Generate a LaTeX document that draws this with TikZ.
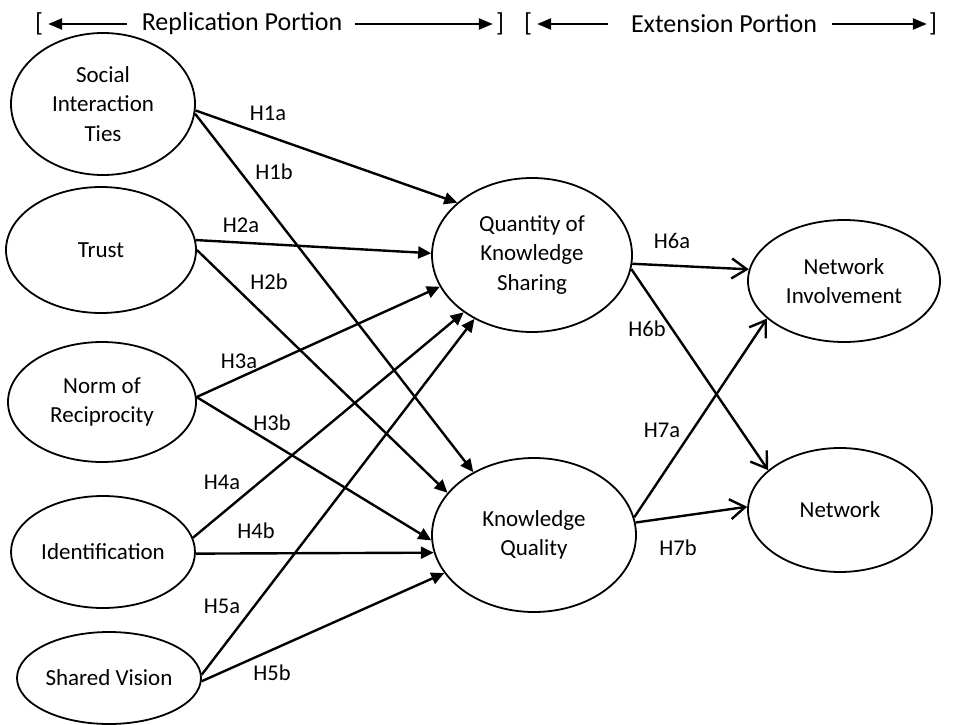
\documentclass[tikz,border=0pt]{standalone}
\usepackage{fontspec}
\setmainfont{Carlito}
\usetikzlibrary{shapes.geometric,arrows.meta}
\begin{document}
\begin{tikzpicture}[x=1pt,y=-1pt,
  cons/.style={draw,ellipse,line width=1.8pt,inner sep=0pt,align=center,
    font=\fontsize{23}{29.5}\selectfont},
  hyp/.style={font=\fontsize{22.5}{27}\selectfont,inner sep=0pt},
  hdr/.style={font=\fontsize{26}{30}\selectfont,inner sep=0pt},
  farr/.style={line width=2.4pt,-{Triangle[length=13pt,width=12pt]}},
  oarr/.style={line width=2.4pt,-{Straight Barb[length=15pt,width=20pt]}},
  harr/.style={line width=2.4pt,-{Triangle[length=14pt,width=11pt]}}]
\useasboundingbox (0,0) rectangle (977,725);

% header
\node[hdr] (lb1) at (39,24) {[};
\node[hdr] (rep) at (242,24) {Replication Portion};
\node[hdr] (rb1) at (500,24) {]};
\node[hdr] (lb2) at (528,24) {[};
\node[hdr] (ext) at (724,24) {Extension Portion};
\node[hdr] (rb2) at (933,24) {]};
\draw[harr] ([xshift=-15pt]rep.west) -- ([xshift=5pt]lb1.east);
\draw[harr] ([xshift=13pt]rep.east) -- ([xshift=-3pt]rb1.west);
\draw[harr] ([xshift=-23pt]ext.west) -- ([xshift=5pt]lb2.east);
\draw[harr] ([xshift=15pt]ext.east) -- ([xshift=-2pt]rb2.west);

% constructs
\node[cons,minimum width=184pt,minimum height=142pt] (soc) at (103,104) {Social\\Interaction\\Ties};
\node[cons,minimum width=190pt,minimum height=126pt] (tru) at (101,250) {Trust};
\node[cons,minimum width=188pt,minimum height=120pt] (nor) at (102,402) {Norm of\\Reciprocity};
\node[cons,minimum width=184pt,minimum height=112pt] (ide) at (103,552) {Identification};
\node[cons,minimum width=184pt,minimum height=92pt] (shv) at (109,678) {Shared Vision};
\node[cons,minimum width=200pt,minimum height=154pt] (qks) at (532,255) {Quantity of\\Knowledge\\Sharing};
\node[cons,minimum width=204pt,minimum height=154pt] (kq) at (534,535) {Knowledge\\Quality};
\node[cons,minimum width=192pt,minimum height=122pt] (ni) at (844,281) {Network\\Involvement};
\node[cons,minimum width=184pt,minimum height=124pt] (net) at (840,510) {Network};

% connectors
\draw[farr] (soc.-4) -- (qks.145.5);
\draw[farr] (soc.-6) -- (kq.134);
\draw[farr] (tru.6) -- (qks.179);
\draw[farr] (tru.0) -- (kq.154.7);
\draw[farr] (nor.3) -- (qks.199.5);
\draw[farr] (nor.3) -- (kq.183);
\draw[farr] (ide.9.3) -- (qks.220);
\draw[farr] (ide.-1) -- (kq.190.5);
\draw[farr] (shv.2) -- (qks.228);
\draw[farr] (shv.-2) -- (kq.203.5);
\draw[oarr] (qks.-5) -- (ni.173.5);
\draw[oarr] (qks.-8.7) -- (net.151);
\draw[oarr] (kq.10.7) -- (ni.206.8);
\draw[oarr] (kq.7.3) -- (net.178);

% labels
\node[hyp] (l1a) at (268,113) {H1a};
\node[hyp] (l1b) at (274,172) {H1b};
\node[hyp] (l2a) at (241,225) {H2a};
\node[hyp] (l2b) at (269,282) {H2b};
\node[hyp] (l3a) at (239,361) {H3a};
\node[hyp] (l3b) at (272,423) {H3b};
\node[hyp] (l4a) at (222,482) {H4a};
\node[hyp] (l4b) at (256,531) {H4b};
\node[hyp] (l5a) at (222,606) {H5a};
\node[hyp] (l5b) at (272,673) {H5b};
\node[hyp] (l6a) at (672,241) {H6a};
\node[hyp] (l6b) at (647,329) {H6b};
\node[hyp] (l7a) at (662,430) {H7a};
\node[hyp] (l7b) at (678,548) {H7b};
\end{tikzpicture}
\end{document}
